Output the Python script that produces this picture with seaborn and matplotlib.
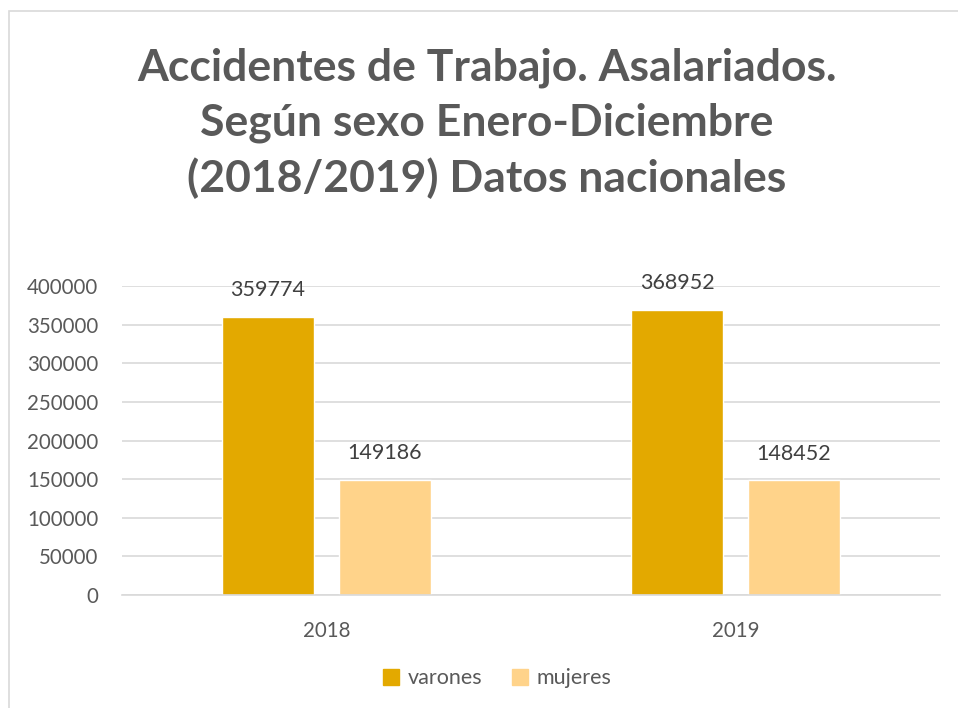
import matplotlib
matplotlib.use("Agg")
import matplotlib.pyplot as plt
import matplotlib.patches as mpatches
import pandas as pd
import seaborn as sns

years = ["2018", "2019"]
sexes = ["varones", "mujeres"]
varones = [359774, 368952]
mujeres = [149186, 148452]

colors = {"varones": "#E3A900", "mujeres": "#FFD38A"}

sns.set_theme(style="white")
plt.rcParams['font.family'] = ['Lato', 'DejaVu Sans']

df = pd.DataFrame({
    "year": years * 2,
    "sexo": ["varones"] * len(years) + ["mujeres"] * len(years),
    "casos": varones + mujeres,
})

fig = plt.figure(figsize=(9.58, 7.08), dpi=100)
ax = fig.add_axes([0.1273, 0.1596, 0.8539, 0.4364])

sns.barplot(data=df, x="year", y="casos", hue="sexo", hue_order=sexes,
            palette=colors, width=0.572, gap=0.21, saturation=1,
            ax=ax, legend=False)

ax.set_xlim(-0.5, 1.5)
ax.set_ylim(0, 400000)
ax.set_yticks(range(0, 400001, 50000))
ax.yaxis.grid(True, color="#d9d9d9", lw=1.2)
ax.set_axisbelow(True)
for s in ["top", "right", "left"]:
    ax.spines[s].set_visible(False)
ax.spines["bottom"].set_color("#d9d9d9")
ax.spines["bottom"].set_linewidth(1.2)
ax.set_xlabel("")
ax.set_ylabel("")
ax.tick_params(axis="both", length=0, labelsize=14.8, labelcolor="#595959")
ax.tick_params(axis="y", pad=17)
ax.tick_params(axis="x", pad=19)

for cont in ax.containers:
    ax.bar_label(cont, labels=[f"{int(v)}" for v in cont.datavalues],
                 padding=12, fontsize=15.5, color="#404040")

fig.text(0.508, 0.826,
         "Accidentes de Trabajo. Asalariados.\nSegún sexo Enero-Diciembre\n(2018/2019) Datos nacionales",
         ha="center", va="center", fontsize=32, fontweight="bold",
         color="#595959", linespacing=1.43)

handles = [mpatches.Patch(color=colors[s], label=s) for s in sexes]
fig.legend(handles=handles, loc="center", bbox_to_anchor=(0.519, 0.042),
           ncol=2, frameon=False, fontsize=15.5, labelcolor="#595959",
           handlelength=0.75, handleheight=0.75, handletextpad=0.4,
           columnspacing=1.4)

fig.patches.append(mpatches.Rectangle((9 / 958, -0.01), 1.0, 1 - 11 / 708 + 0.01,
                                      transform=fig.transFigure, fill=False,
                                      edgecolor="#d9d9d9", lw=1.2))

fig.savefig("out.png", dpi=100)
